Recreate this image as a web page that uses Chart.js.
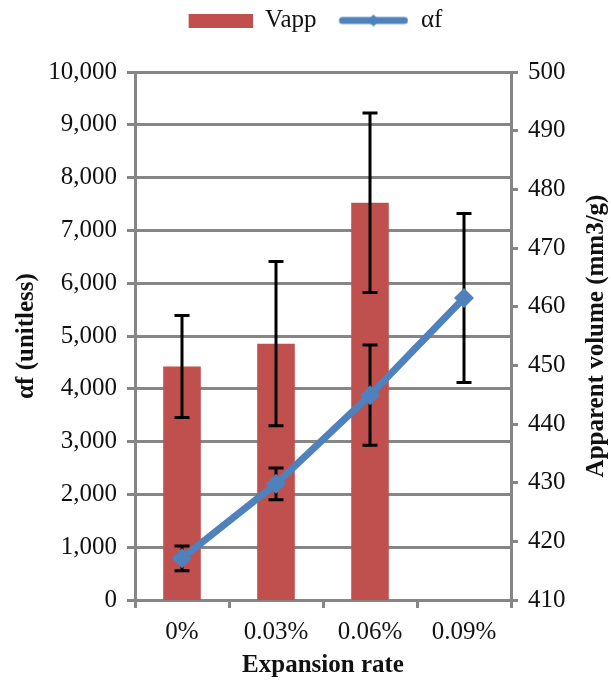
<!DOCTYPE html>
<html>
<head>
  <title>Vapp and af vs expansion rate</title>
  <script src="https://cdn.jsdelivr.net/npm/chart.js"></script>
  <style>
    body { margin: 0; background: #fff; }
    canvas { display: block; }
  </style>
</head>
<body>
  <canvas id="chart" width="611" height="681"></canvas>

  <script>
    // data
    const categories = ['0%', '0.03%', '0.06%', '0.09%'];
    const vapp = [449.8, 453.7, 477.7, null];      // mm3/g, right axis
    const vappErr = [8.7, 14, 15.3, null];
    const alphaF = [790, 2200, 3880, 5720];        // unitless, left axis
    const alphaFErr = [235, 300, 950, 1600];

    const RED = '#C0504D';
    const BLUE = '#4F81BD';
    const GRID = '#868686';
    const TEXT = '#111';
    const FONT = "'Liberation Serif', 'Times New Roman', serif";
    const rightTitle = 'Apparent volume (mm3/g)';

    Chart.defaults.font.family = FONT;
    Chart.defaults.color = TEXT;

    // legend icons (transparent strip on the left gives the gap between items)
    function barIcon() {
      const c = document.createElement('canvas');
      c.width = 84; c.height = 14;
      const g = c.getContext('2d');
      g.fillStyle = RED;
      g.fillRect(20, 0, 64, 14);
      return c;
    }
    function lineIcon() {
      const c = document.createElement('canvas');
      c.width = 84; c.height = 16;
      const g = c.getContext('2d');
      g.strokeStyle = BLUE;
      g.lineWidth = 7;
      g.lineCap = 'round';
      g.beginPath();
      g.moveTo(18, 8); g.lineTo(80, 8);
      g.stroke();
      g.fillStyle = BLUE;
      g.beginPath();
      g.moveTo(49, 2); g.lineTo(55, 8); g.lineTo(49, 14); g.lineTo(43, 8);
      g.closePath();
      g.fill();
      return c;
    }
    const legendIcons = [barIcon(), lineIcon()];

    // push the plot down below the legend
    const legendMargin = {
      id: 'legendMargin',
      beforeInit(chart) {
        const fit = chart.legend.fit;
        chart.legend.fit = function () {
          fit.call(this);
          this.height = 72;
        };
      }
    };

    const errorBars = {
      id: 'errorBars',
      afterDatasetDraw(chart, args) {
        if (args.index !== 0) return;
        const ctx = chart.ctx;
        const xs = chart.scales.x;
        const sets = [
          [vapp, vappErr, chart.scales.y1],
          [alphaF, alphaFErr, chart.scales.y]
        ];
        ctx.save();
        ctx.strokeStyle = '#000';
        ctx.lineWidth = 3;
        sets.forEach(([vals, errs, sc]) => {
          vals.forEach((v, i) => {
            if (v == null || errs[i] == null) return;
            const cx = xs.getPixelForValue(i);
            const top = sc.getPixelForValue(v + errs[i]);
            const bot = sc.getPixelForValue(v - errs[i]);
            ctx.beginPath();
            ctx.moveTo(cx, top); ctx.lineTo(cx, bot);
            ctx.moveTo(cx - 7.5, top); ctx.lineTo(cx + 7.5, top);
            ctx.moveTo(cx - 7.5, bot); ctx.lineTo(cx + 7.5, bot);
            ctx.stroke();
          });
        });
        ctx.restore();
      }
    };

    // right axis title reads bottom-to-top, like the left one
    const rightAxisTitle = {
      id: 'rightAxisTitle',
      afterDraw(chart) {
        const s = chart.scales.y1;
        const ctx = chart.ctx;
        ctx.save();
        ctx.translate(s.right - 14, (s.top + s.bottom) / 2);
        ctx.rotate(-Math.PI / 2);
        ctx.textAlign = 'center';
        ctx.textBaseline = 'middle';
        ctx.fillStyle = TEXT;
        ctx.font = 'bold 25px ' + FONT;
        ctx.fillText(rightTitle, 0, 0);
        ctx.restore();
      }
    };

    const tickFont = { size: 25 };
    const titleFont = { size: 25, weight: 'bold' };

    new Chart(document.getElementById('chart'), {
      type: 'bar',
      data: {
        labels: categories,
        datasets: [
          {
            type: 'bar',
            label: 'Vapp',
            data: vapp,
            yAxisID: 'y1',
            backgroundColor: RED,
            categoryPercentage: 1,
            barPercentage: 0.4,
            order: 1
          },
          {
            type: 'line',
            label: 'αf',
            data: alphaF,
            yAxisID: 'y',
            borderColor: BLUE,
            backgroundColor: BLUE,
            borderWidth: 7,
            pointStyle: 'rectRot',
            pointRadius: 10,
            pointBorderWidth: 0,
            pointBackgroundColor: BLUE,
            tension: 0,
            order: 0
          }
        ]
      },
      options: {
        responsive: false,
        animation: false,
        layout: { padding: 0 },
        plugins: {
          tooltip: { enabled: false },
          legend: {
            position: 'top',
            labels: {
              usePointStyle: true,
              pointStyleWidth: 84,
              padding: 8,
              color: TEXT,
              font: { size: 25 },
              generateLabels(chart) {
                const items = Chart.defaults.plugins.legend.labels.generateLabels(chart);
                items.sort((a, b) => a.datasetIndex - b.datasetIndex);
                items.forEach(it => { it.pointStyle = legendIcons[it.datasetIndex]; });
                return items;
              }
            }
          }
        },
        scales: {
          x: {
            offset: true,
            grid: { display: true, offset: true, drawOnChartArea: false, color: GRID, lineWidth: 3, tickLength: 8 },
            border: { color: GRID, width: 3 },
            ticks: { font: tickFont, color: TEXT, padding: 9 },
            title: { display: true, text: 'Expansion rate', font: titleFont, color: TEXT, padding: { top: 0, bottom: 0 } },
            afterFit(s) { s.height = 81; }
          },
          y: {
            position: 'left',
            min: 0,
            max: 10000,
            ticks: { stepSize: 1000, font: tickFont, color: TEXT, padding: 10,
              callback: v => v.toLocaleString('en-US') },
            grid: { color: GRID, lineWidth: 3, tickLength: 8 },
            border: { color: GRID, width: 3 },
            title: { display: true, text: 'αf (unitless)', font: titleFont, color: TEXT, padding: { top: 12, bottom: 0 } },
            afterFit(s) { s.width = 135; }
          },
          y1: {
            position: 'right',
            min: 410,
            max: 500,
            ticks: { stepSize: 10, font: tickFont, color: TEXT, padding: 10 },
            grid: { drawOnChartArea: false, color: GRID, lineWidth: 3, tickLength: 7 },
            border: { color: GRID, width: 3 },
            title: { display: false },
            afterFit(s) { s.width = 100; }
          }
        }
      },
      plugins: [legendMargin, errorBars, rightAxisTitle]
    });
  </script>
</body>
</html>
